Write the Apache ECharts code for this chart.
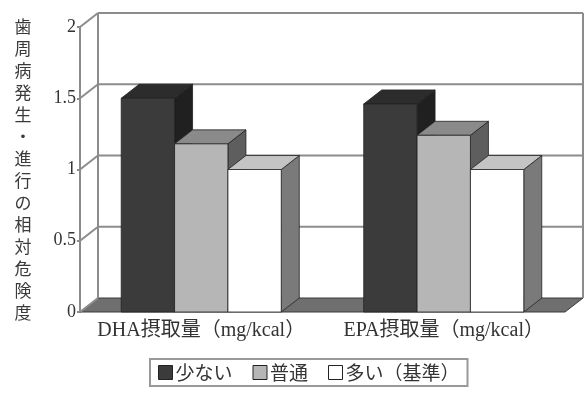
<!DOCTYPE html>
<html>
<head>
<meta charset="utf-8">
<script src="https://cdn.jsdelivr.net/npm/echarts@6/dist/echarts.min.js"></script>
<style>
  html, body { margin: 0; padding: 0; background: #fff; }
  #chart { width: 584px; height: 396px; }
</style>
</head>
<body>
<div id="chart"></div>
<script>
// Relative risk of periodontal disease onset/progression by intake level
const categories = ['DHA摂取量（mg/kcal）', 'EPA摂取量（mg/kcal）'];
const seriesNames = ['少ない', '普通', '多い（基準）'];
const lowValues = [1.50, 1.46];
const midValues = [1.18, 1.24];
const highValues = [1.00, 1.00];
const yTicks = [0, 0.5, 1, 1.5, 2];

// 3D depth offset of the walls and boxes (pixels)
const DX = 18, DY = -14;
const BAR_RATIO = 0.22;

// face colours per series: front, top, side
const faces = [
  { front: '#3b3b3b', top: '#2c2c2c', side: '#202020' },
  { front: '#b6b6b6', top: '#8a8a8a', side: '#5e5e5e' },
  { front: '#ffffff', top: '#c4c4c4', side: '#7a7a7a' }
];

function wallRenderer(params, api) {
  const bw = api.size([1, 0])[0];
  const L = api.coord([0, 0])[0] - bw / 2;
  const R = api.coord([categories.length - 1, 0])[0] + bw / 2;
  const v = api.value(1);
  const y = api.coord([0, v])[1];
  const gridStyle = { stroke: '#8c8c8c', lineWidth: 2 };
  const children = [];
  if (params.dataIndex === 0) {
    const yTop = api.coord([0, yTicks[yTicks.length - 1]])[1];
    children.push({
      type: 'polygon',
      shape: { points: [[L, y], [R, y], [R + DX, y + DY], [L + DX, y + DY]] },
      style: { fill: '#6f6f6f', stroke: '#3a3a3a', lineWidth: 1 }
    });
    children.push({
      type: 'line',
      shape: { x1: L + DX, y1: yTop + DY, x2: L + DX, y2: y + DY },
      style: gridStyle
    });
    children.push({
      type: 'line',
      shape: { x1: R + DX, y1: yTop + DY, x2: R + DX, y2: y + DY },
      style: gridStyle
    });
  } else {
    children.push({
      type: 'line',
      shape: { x1: L + DX, y1: y + DY, x2: R + DX, y2: y + DY },
      style: gridStyle
    });
  }
  children.push({
    type: 'line',
    shape: { x1: L, y1: y, x2: L + DX, y2: y + DY },
    style: gridStyle
  });
  return { type: 'group', children: children };
}

function barRenderer(idx) {
  return function (params, api) {
    const c = api.value(0);
    const val = api.value(1);
    const base = api.coord([c, 0]);
    const top = api.coord([c, val]);
    const bw = api.size([1, 0])[0];
    const w = bw * BAR_RATIO;
    const x0 = base[0] - 1.5 * w + idx * w;
    const x1 = x0 + w;
    const ty = top[1], by = base[1];
    const f = faces[idx];
    const edge = { stroke: '#222', lineWidth: 0.8 };
    return {
      type: 'group',
      children: [
        {
          type: 'polygon',
          shape: { points: [[x1, ty], [x1 + DX, ty + DY], [x1 + DX, by + DY], [x1, by]] },
          style: Object.assign({ fill: f.side }, edge)
        },
        {
          type: 'polygon',
          shape: { points: [[x0, ty], [x1, ty], [x1 + DX, ty + DY], [x0 + DX, ty + DY]] },
          style: Object.assign({ fill: f.top }, edge)
        },
        {
          type: 'rect',
          shape: { x: x0, y: ty, width: w, height: by - ty },
          style: Object.assign({ fill: f.front }, edge)
        }
      ]
    };
  };
}

const valueSets = [lowValues, midValues, highValues];
const series = [{
  type: 'custom',
  name: '_walls',
  renderItem: wallRenderer,
  data: yTicks.map(function (v) { return [0, v]; }),
  clip: false,
  silent: true,
  z: 1
}];
valueSets.forEach(function (vals, i) {
  series.push({
    type: 'custom',
    name: seriesNames[i],
    renderItem: barRenderer(i),
    itemStyle: { color: faces[i].front },
    data: vals.map(function (v, k) { return [k, v]; }),
    clip: false,
    z: 2
  });
});

const chart = echarts.init(document.getElementById('chart'), null, { renderer: 'canvas' });
chart.setOption({
  backgroundColor: '#ffffff',
  animation: false,
  grid: { left: 80, right: 19, top: 27, bottom: 84 },
  xAxis: {
    type: 'category',
    data: categories,
    axisLine: { show: false },
    axisTick: { show: false },
    axisLabel: {
      interval: 0,
      margin: 9,
      fontSize: 20,
      color: '#333',
      fontFamily: "'Liberation Serif', 'Noto Sans CJK JP'"
    }
  },
  yAxis: {
    type: 'value',
    min: 0,
    max: 2,
    interval: 0.5,
    name: '歯周病発生・進行の相対危険度'.split('').join('\n'),
    nameLocation: 'middle',
    nameRotate: 0,
    nameGap: 57,
    nameTextStyle: {
      fontSize: 17,
      lineHeight: 22,
      color: '#3a3a3a',
      align: 'center',
      verticalAlign: 'middle',
      fontFamily: "'Noto Sans CJK JP'"
    },
    axisLine: { show: true, lineStyle: { color: '#8c8c8c', width: 2 } },
    axisTick: { show: true, length: 3, lineStyle: { color: '#8c8c8c', width: 2 } },
    splitLine: { show: false },
    axisLabel: {
      margin: 4,
      fontSize: 18,
      color: '#333',
      fontFamily: "'Liberation Serif'"
    }
  },
  legend: {
    data: seriesNames,
    left: 150,
    top: 359,
    orient: 'horizontal',
    padding: [4, 8],
    itemGap: 20,
    itemWidth: 14,
    itemHeight: 14,
    icon: 'rect',
    borderColor: '#999',
    borderWidth: 2,
    itemStyle: { borderColor: '#222', borderWidth: 1 },
    textStyle: {
      fontSize: 19,
      color: '#333',
      padding: [0, 0, 0, -2],
      fontFamily: "'Noto Sans CJK JP'"
    }
  },
  series: series
});
</script>
</body>
</html>
